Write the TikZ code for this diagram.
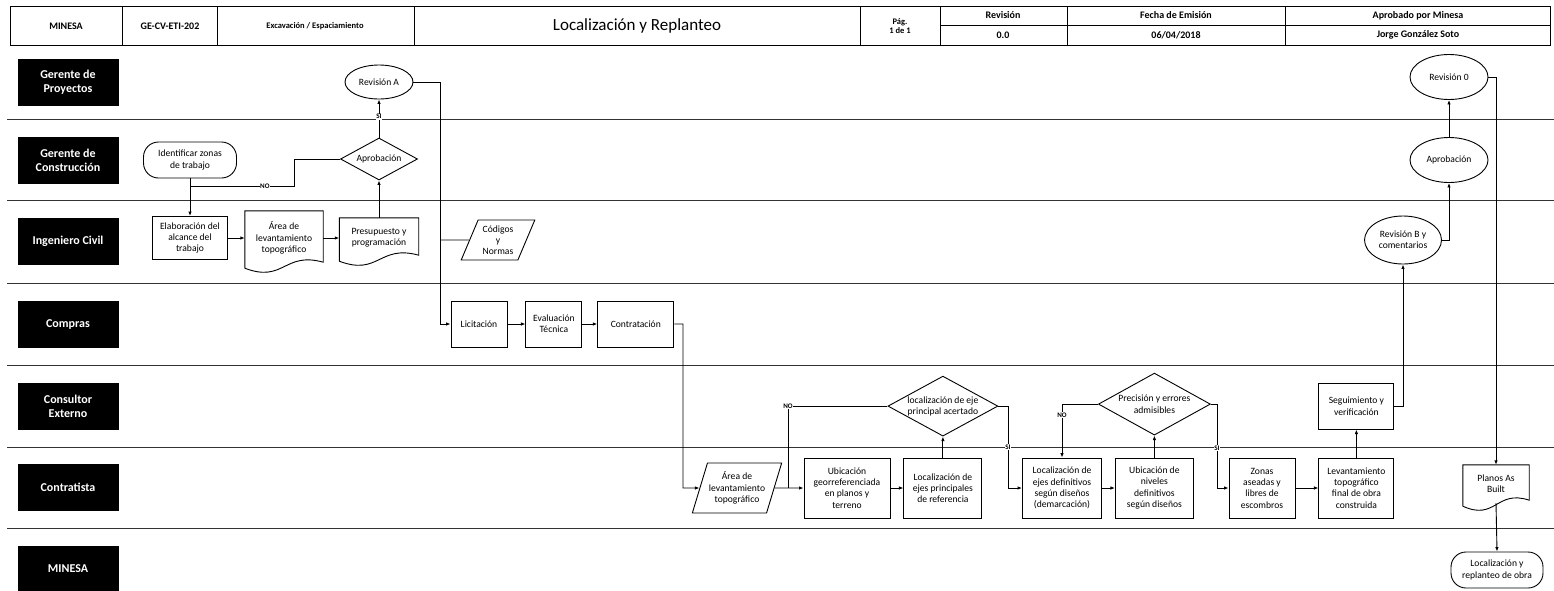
\documentclass[tikz,border=0pt]{standalone}
\usepackage{fontspec}
\setmainfont{Carlito}
\usetikzlibrary{positioning,calc,shapes.geometric,arrows.meta}

\newcommand{\docedge}[1]{%
  \draw[link] ($(#1.south west)+(0pt,-3pt)$) -- (#1.north west) -- (#1.north east) -- ($(#1.south east)+(0pt,3pt)$)
    .. controls ($(#1.south west)!0.5!(#1.south east)+(0pt,14pt)$) and ($(#1.south west)!0.5!(#1.south east)+(0pt,-18pt)$) .. ($(#1.south west)+(0pt,-3pt)$);}

\begin{document}
\begin{tikzpicture}[x=1pt,y=-1pt,>={Latex[length=4.5pt,width=3.5pt]},
  nfont/.style={font=\fontsize{9.6}{11.3}\selectfont},
  box/.style={draw,line width=0.9pt,align=center,inner sep=1pt,nfont},
  proc/.style 2 args={box,minimum width=#1,minimum height=#2},
  term/.style 2 args={proc={#1}{#2},rounded corners=15pt},
  oval/.style 2 args={box,ellipse,inner sep=0pt,minimum width=#1,minimum height=#2},
  deci/.style 2 args={box,diamond,aspect=1.8,inner sep=-5pt,minimum width=#1,minimum height=#2},
  io/.style 2 args={box,trapezium,trapezium left angle=66,trapezium right angle=114,trapezium stretches=true,inner sep=0pt,minimum width=#1,minimum height=#2},
  doc/.style 2 args={align=center,inner sep=1pt,nfont,minimum width=#1,minimum height=#2},
  lane/.style={fill=black,text=white,align=center,minimum width=101pt,minimum height=47pt,font=\bfseries\fontsize{12}{14}\selectfont},
  sep/.style={line width=0.9pt,black!80},
  link/.style={line width=0.9pt},
  flow/.style={link,->},
  lbl/.style={fill=white,inner sep=0.6pt,font=\bfseries\fontsize{7}{7}\selectfont},
  hd/.style={font=\bfseries\fontsize{10}{11.5}\selectfont,align=center}]
\useasboundingbox (0,0) rectangle (1554,590);

% header
\draw[line width=1pt] (10,6) rectangle (1550,45);
\foreach \x in {122,217,414,860,940,1067,1285}
  \draw[line width=1pt] (\x,6) -- (\x,45);
\draw[line width=1pt] (940,25) -- (1550,25);
\node[hd] (hmin) at (66,26) {MINESA};
\node[hd] (hcod) at (170,26) {GE-CV-ETI-202};
\node[hd,font=\bfseries\fontsize{8.5}{10}\selectfont] (hexc) at (315,26) {Excavación / Espaciamiento};
\node[font=\fontsize{17}{19}\selectfont] (htit) at (637,26) {Localización y Replanteo};
\node[hd,font=\bfseries\fontsize{8.5}{9.5}\selectfont] (hpag) at (900,26) {Pág.\\1 de 1};
\node[hd] (hrev) at (1003,15.5) {Revisión};
\node[hd] (hrevv) at (1003,35) {0.0};
\node[hd] (hfec) at (1176,15.5) {Fecha de Emisión};
\node[hd] (hfecv) at (1176,35) {06/04/2018};
\node[hd] (hapr) at (1418,15.5) {Aprobado por Minesa};
\node[hd] (haprv) at (1418,35) {Jorge González Soto};

% lanes
\foreach \y in {119,200,283,365,447,528}
  \draw[sep] (7,\y) -- (1554,\y);
\node[lane] (l1) at (68,82) {Gerente de\\Proyectos};
\node[lane] (l2) at (68,160) {Gerente de\\Construcción};
\node[lane] (l3) at (68,241) {Ingeniero Civil};
\node[lane] (l4) at (68,324) {Compras};
\node[lane] (l5) at (68,406) {Consultor\\Externo};
\node[lane] (l6) at (68,487) {Contratista};
\node[lane] (l7) at (68,569) {MINESA};

% nodes
\node[term={93pt}{36pt}] (ident) at (190,160) {Identificar zonas\\de trabajo};
\node[proc={75pt}{43pt}] (elab) at (190,238) {Elaboración del\\alcance del\\trabajo};
\node[doc={78pt}{54pt}] (area1) at (284,238) {Área de\\levantamiento\\topográfico};
\node[doc={79pt}{40pt}] (presu) at (379,238) {Presupuesto y\\programación};
\node[deci={77pt}{42pt}] (aprob1) at (379,159) {Aprobación};
\node[oval={68pt}{34pt}] (revA) at (379,82) {Revisión A};
\node[io={74pt}{40pt}] (codigos) at (498,240) {Códigos\\y\\Normas};
\node[proc={56pt}{46pt}] (licit) at (479,324) {Licitación};
\node[proc={56pt}{46pt},right=18pt of licit] (evalt) {Evaluación\\Técnica};
\node[proc={76pt}{46pt},right=15pt of evalt] (contr) {Contratación};
\node[io={90pt}{50pt}] (area2) at (737,488) {Área de\\levantamiento\\topográfico};
\node[proc={86pt}{60pt}] (ubic) at (847,488) {Ubicación\\georreferenciada\\en planos y\\terreno};
\node[proc={78pt}{60pt},right=13pt of ubic] (locref) {Localización de\\ejes principales\\de referencia};
\node[deci={110pt}{60pt},above=21pt of locref] (diam1) {localización de eje\\principal acertado};
\node[proc={79pt}{60pt}] (locdef) at (1062,488) {Localización de\\ejes definitivos\\según diseños\\(demarcación)};
\node[proc={78pt}{60pt},right=13pt of locdef] (ubniv) {Ubicación de\\niveles\\definitivos\\según diseños};
\node[deci={112pt}{62pt},above=22pt of ubniv] (diam2) {Precisión y errores\\admisibles};
\node[proc={66pt}{60pt}] (zonas) at (1262,488) {Zonas\\aseadas y\\libres de\\escombros};
\node[proc={75pt}{60pt},right=23pt of zonas] (levant) {Levantamiento\\topográfico\\final de obra\\construida};
\node[proc={75pt}{46pt},above=28pt of levant] (segui) {Seguimiento y\\verificación};
\node[oval={77pt}{48pt}] (revB) at (1403,240) {Revisión B y\\comentarios};
\node[oval={78pt}{45pt}] (aprob2) at (1449,160) {Aprobación};
\node[oval={78pt}{45pt}] (rev0) at (1449,77) {Revisión 0};
\node[doc={66pt}{38pt}] (planos) at (1496,484) {Planos As\\Built};
\node[term={92pt}{36pt}] (locfin) at (1497,570) {Localización y\\replanteo de obra};
\docedge{area1}
\docedge{presu}
\docedge{planos}

% connectors
\coordinate (jno) at (190,186);
\coordinate (bno) at (294,186);
\coordinate (vA) at (440,324);
\coordinate (vC) at (440,240);
\coordinate (vB) at (683,488);
\coordinate (jU) at (788,488);
\coordinate (sA) at (1008,488);
\coordinate (sB) at (1217,488);
\draw[flow] (ident.south) -- (ident.south |- elab.north);
\draw[link] (aprob1.west) -| (bno) -- node[lbl,pos=0.28]{NO} (jno);
\draw[flow] (aprob1.north) -- node[lbl,pos=0.55]{SI} (revA.south);
\draw[flow] (presu.north) -- (aprob1.south);
\draw[flow] (elab.east) -- (elab.east -| area1.west);
\draw[flow] (area1.east) -- (area1.east -| presu.west);
\draw[flow] (revA.east) -| (vA) -- (licit.west);
\draw[link] (vC) -- (codigos.west);
\draw[flow] (licit) -- (evalt);
\draw[flow] (evalt) -- (contr);
\draw[flow] (contr.east) -| (vB) -- (area2.west);
\draw[flow] (area2.east) -- (ubic.west);
\draw[link] (diam1.west) -| node[lbl,pos=0.5]{NO} (jU);
\draw[flow] (ubic) -- (locref);
\draw[flow] (locref) -- (diam1);
\draw[flow] (diam1.east) -| node[lbl,pos=0.75]{SI} (sA) -- (locdef.west);
\draw[flow] (diam2.west) -| node[lbl,pos=0.6]{NO} (locdef.north);
\draw[flow] (locdef) -- (ubniv);
\draw[flow] (ubniv) -- (diam2);
\draw[flow] (diam2.east) -| node[lbl,pos=0.76]{SI} (sB) -- (zonas.west);
\draw[flow] (zonas) -- (levant);
\draw[flow] (levant) -- (segui);
\draw[flow] (segui.east) -| (revB.south);
\draw[flow] (revB.east) -| (aprob2.south);
\draw[flow] (aprob2) -- (rev0);
\draw[flow] (rev0.east) -| (planos.north);
\draw[flow] (planos.south) -- (locfin.north);
\end{tikzpicture}
\end{document}
